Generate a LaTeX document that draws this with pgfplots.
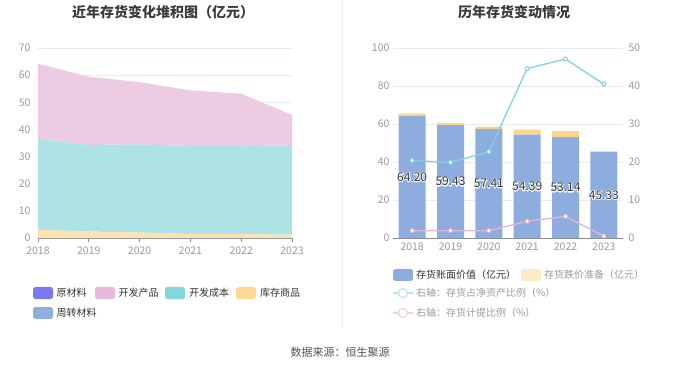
\documentclass[border=0pt]{standalone}
\usepackage{fontspec}
\setmainfont{Noto Sans CJK SC}
\usepackage{pgfplots}
\pgfplotsset{compat=1.18}
\definecolor{gridc}{HTML}{E6EBF5}
\definecolor{tickc}{HTML}{9A9A9A}
\definecolor{axisc}{HTML}{8A8C94}
\definecolor{titlec}{HTML}{3C3C3C}
\definecolor{textc}{HTML}{333333}
\definecolor{grayt}{HTML}{9A9A9A}
\definecolor{areaPink}{HTML}{EDCBE2}
\definecolor{areaTeal}{HTML}{ADE3E4}
\definecolor{areaOrange}{HTML}{FDE2B1}
\definecolor{legPurple}{HTML}{7879F1}
\definecolor{legPink}{HTML}{E8B7D9}
\definecolor{legTeal}{HTML}{84D7D9}
\definecolor{legOrange}{HTML}{FED896}
\definecolor{legBlue}{HTML}{8FAEDC}
\definecolor{barBlue}{HTML}{8DADDF}
\definecolor{barOrange}{HTML}{FDD590}
\definecolor{legOrangeL}{HTML}{FDEBC8}
\definecolor{lineTeal}{HTML}{80D3D9}
\definecolor{linePink}{HTML}{E6B3D8}
\definecolor{lineTealL}{HTML}{B9E6EA}
\definecolor{linePinkL}{HTML}{F1D1E6}
\definecolor{sepc}{HTML}{EEEEEE}
\newcommand{\halo}[1]{\special{pdf:literal direct 1 Tr 1.6 w 1 1 1 RG 1 j}#1\special{pdf:literal direct 0 Tr}}
\pgfplotsset{
  common/.style={
    scale only axis, anchor=south west,
    /pgf/number format/.cd, 1000 sep={}, assume math mode=true, /pgfplots/.cd,
    tick label style={font=\fontsize{10.5}{12}\selectfont, color=tickc},
    grid style={color=gridc, line width=0.7pt},
  }
}
\begin{document}
\begin{tikzpicture}[x=1pt,y=1pt]
\useasboundingbox (0,0) rectangle (680,367);
\draw[sepc, line width=0.8pt] (342,39) -- (342,367);
% ---------- Left chart ----------
\begin{axis}[common, at={(38pt,129pt)}, width=254pt, height=190pt,
  xmin=2018, xmax=2023, ymin=0, ymax=70,
  xtick={2018,2019,2020,2021,2022,2023}, ytick={0,10,...,70},
  ymajorgrids, axis x line*=bottom, axis y line*=left,
  y axis line style={draw=none}, ytick style={draw=none},
  x axis line style={color=axisc, line width=0.8pt},
  xtick style={color=axisc, line width=0.8pt}, tick align=outside, major tick length=4pt,
  xticklabel style={yshift=-1pt},
  stack plots=y, area style, axis on top=false]
\addplot[fill=areaOrange, draw=none] coordinates {(2018,3.0) (2019,2.4) (2020,2.0) (2021,1.5) (2022,1.4) (2023,1.2)} \closedcycle;
\addplot[fill=areaTeal, draw=none] coordinates {(2018,33.5) (2019,31.9) (2020,32.5) (2021,32.4) (2022,32.4) (2023,33.0)} \closedcycle;
\addplot[fill=areaPink, draw=none] coordinates {(2018,27.7) (2019,25.13) (2020,22.91) (2021,20.49) (2022,19.34) (2023,11.13)} \closedcycle;
\end{axis}
% ---------- Right chart: bars ----------
\begin{axis}[common, at={(393pt,129pt)}, width=230pt, height=190pt,
  xmin=-0.5, xmax=5.5, ymin=0, ymax=100,
  xtick={0,1,2,3,4,5}, xticklabels={2018,2019,2020,2021,2022,2023},
  extra x ticks={-0.5,0.5,1.5,2.5,3.5,4.5,5.5}, extra x tick labels={},
  extra x tick style={xtick style={color=axisc, line width=0.8pt}, major tick length=4pt, tick align=outside, grid=none},
  ytick={0,20,...,100},
  ymajorgrids, axis x line*=bottom, axis y line*=left,
  y axis line style={draw=none}, ytick style={draw=none},
  x axis line style={color=axisc, line width=0.8pt},
  xtick style={draw=none},
  xticklabel style={yshift=-1pt},
  ybar stacked, bar width=27pt]
\addplot[fill=barBlue, draw=none] coordinates {(0,64.20) (1,59.43) (2,57.41) (3,54.39) (4,53.14) (5,45.33)};
\addplot[fill=barOrange, draw=none] coordinates {(0,1.2) (1,1.2) (2,1.2) (3,2.6) (4,3.3) (5,0.3)};
\end{axis}
% ---------- Right chart: label halo ----------
\begin{axis}[common, at={(393pt,129pt)}, width=230pt, height=190pt,
  xmin=-0.5, xmax=5.5, ymin=0, ymax=100, hide axis,
  nodes near coords={\halo{\pgfplotspointmeta}},
  point meta=explicit symbolic,
  every node near coord/.append style={anchor=center, font=\fontsize{12}{14}\selectfont, color=white}]
\addplot[draw=none, mark=none] coordinates {(0,32.10) [64.20] (1,29.715) [59.43] (2,28.705) [57.41] (3,27.195) [54.39] (4,26.57) [53.14] (5,22.665) [45.33]};
\end{axis}
% ---------- Right chart: labels ----------
\begin{axis}[common, at={(393pt,129pt)}, width=230pt, height=190pt,
  xmin=-0.5, xmax=5.5, ymin=0, ymax=100, hide axis,
  nodes near coords={\pgfplotspointmeta},
  point meta=explicit symbolic,
  every node near coord/.append style={anchor=center, font=\fontsize{12}{14}\selectfont, color=textc}]
\addplot[draw=none, mark=none] coordinates {(0,32.10) [64.20] (1,29.715) [59.43] (2,28.705) [57.41] (3,27.195) [54.39] (4,26.57) [53.14] (5,22.665) [45.33]};
\end{axis}
% ---------- Right chart: lines (right axis) ----------
\begin{axis}[common, at={(393pt,129pt)}, width=230pt, height=190pt,
  xmin=-0.5, xmax=5.5, ymin=0, ymax=50,
  axis y line*=right, axis x line=none,
  y axis line style={draw=none}, ytick style={draw=none},
  ytick={0,10,...,50}, yticklabel style={xshift=2pt}]
\addplot[color=lineTeal, line width=1.3pt, mark=*, mark size=2pt, mark options={fill=white, draw=lineTeal, line width=1pt}] coordinates {(0,20.4) (1,19.9) (2,22.7) (3,44.6) (4,47.1) (5,40.5)};
\addplot[color=linePink, line width=1.3pt, mark=*, mark size=2pt, mark options={fill=white, draw=linePink, line width=1pt}] coordinates {(0,1.93) (1,1.93) (2,1.93) (3,4.4) (4,5.7) (5,0.5)};
\end{axis}
% ---------- Titles ----------
\node[font=\fontsize{14}{16}\selectfont\bfseries, color=titlec] at (163,355) {近年存货变化堆积图（亿元）};
\node[font=\fontsize{14}{16}\selectfont\bfseries, color=titlec] at (514,355) {历年存货变动情况};
% ---------- Left legend ----------
\begin{scope}[every node/.style={anchor=west, inner sep=0pt, font=\fontsize{10}{12}\selectfont, color=textc}]
\fill[legPurple, rounded corners=2.5pt] (33,68) rectangle (53,80);
\node at (56.5,74) {原材料};
\fill[legPink, rounded corners=2.5pt] (95,68) rectangle (115,80);
\node at (118.5,74) {开发产品};
\fill[legTeal, rounded corners=2.5pt] (165,68) rectangle (185,80);
\node at (189,74) {开发成本};
\fill[legOrange, rounded corners=2.5pt] (236,68) rectangle (256,80);
\node at (260,74) {库存商品};
\fill[legBlue, rounded corners=2.5pt] (33,48) rectangle (53,60);
\node at (56.5,54) {周转材料};
% ---------- Right legend ----------
\fill[barBlue, rounded corners=2.5pt] (393,86) rectangle (413,98);
\node at (416,92) {存货账面价值（亿元）};
\fill[legOrangeL, rounded corners=2.5pt] (521,86) rectangle (541,98);
\node[color=grayt] at (544,92) {存货跌价准备（亿元）};
\draw[lineTealL, line width=1.2pt] (393,74) -- (413,74);
\draw[lineTealL, line width=1.2pt, fill=white] (403,74) circle (4.5);
\node[color=grayt] at (416,74) {右轴：存货占净资产比例（\%）};
\draw[linePinkL, line width=1.2pt] (393,54) -- (413,54);
\draw[linePinkL, line width=1.2pt, fill=white] (403,54) circle (4.5);
\node[color=grayt] at (416,54) {右轴：存货计提比例（\%）};
\end{scope}
% ---------- Source ----------
\node[font=\fontsize{11}{13}\selectfont, color=textc!85] at (340,15) {数据来源：恒生聚源};
\end{tikzpicture}
\end{document}
